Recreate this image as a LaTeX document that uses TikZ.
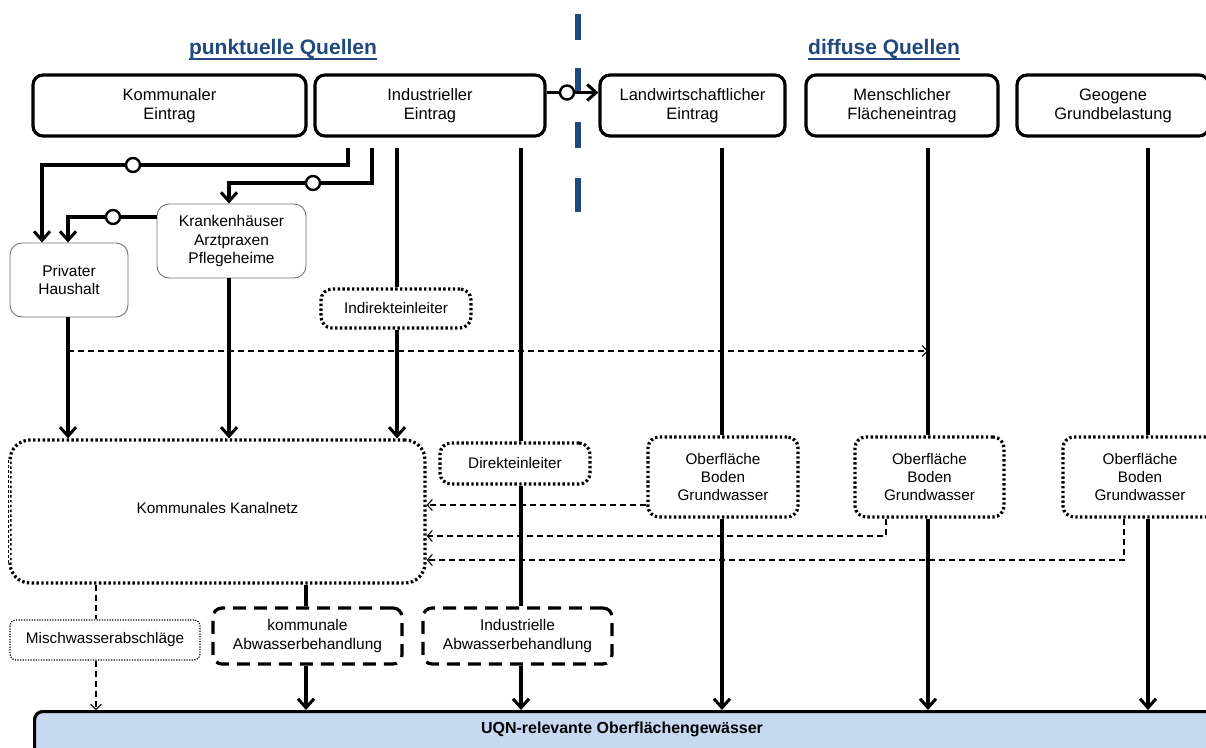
\documentclass[tikz,border=0pt]{standalone}
\usepackage{fontspec}
\setmainfont{Liberation Sans}
\usetikzlibrary{arrows.meta}
\definecolor{qblue}{RGB}{31,73,125}
\definecolor{uqnfill}{RGB}{198,217,240}
\begin{document}
\begin{tikzpicture}[x=1pt,y=-1pt,
  srcbox/.style={draw, line width=3.2pt, rounded corners=10pt, minimum height=61pt, align=center, font=\fontsize{16.5}{19}\selectfont, inner sep=2pt, fill=white},
  softbox/.style={draw=black!55, line width=0.9pt, rounded corners=12pt, fill=white, align=center, font=\fontsize{15.5}{18.3}\selectfont, inner sep=2pt},
  dotbox/.style={draw, line width=3.2pt, dash pattern=on 2.4pt off 2.4pt, rounded corners=11pt, fill=white, align=center, font=\fontsize{15.3}{18}\selectfont, inner sep=2pt},
  dashbox/.style={draw, line width=3.2pt, dash pattern=on 13pt off 8pt, rounded corners=9pt, fill=white, align=center, font=\fontsize{15.5}{18.3}\selectfont, inner sep=2pt},
  thinbox/.style={draw, line width=1.2pt, dash pattern=on 1.2pt off 1.4pt, rounded corners=6pt, fill=white, align=center, font=\fontsize{15.3}{18}\selectfont, inner sep=2pt},
  flow/.style={line width=3.2pt, -{Straight Barb[length=9pt,width=16pt,line width=3pt]}},
  flowline/.style={line width=3.2pt},
  dflow/.style={line width=1.1pt, dash pattern=on 6pt off 4pt, -{Straight Barb[length=5pt,width=11pt,line width=1.1pt]}},
  dline/.style={line width=1.1pt, dash pattern=on 6pt off 4pt},
  knot/.style={circle, draw, line width=2.4pt, fill=white, minimum size=14pt, inner sep=0pt},
]
\useasboundingbox (0,0) rectangle (1206,747);

% titles
\node[font=\bfseries\fontsize{21}{24}\selectfont, text=qblue, inner sep=0pt, anchor=base] (pq) at (283,54) {punktuelle Quellen};
\draw[qblue, line width=1.8pt] ([yshift=-5pt]pq.base west) -- ([yshift=-5pt]pq.base east);
\node[font=\bfseries\fontsize{21}{24}\selectfont, text=qblue, inner sep=0pt, anchor=base] (dq) at (884,54) {diffuse Quellen};
\draw[qblue, line width=1.8pt] ([yshift=-5pt]dq.base west) -- ([yshift=-5pt]dq.base east);

% divider
\draw[qblue, line width=6pt, dash pattern=on 26pt off 28pt] (578,14) -- (578,176);
\draw[qblue, line width=6pt] (578,178) -- (578,212);

% source boxes
\node[srcbox, minimum width=273pt] (kom) at (169.5,105.5) {Kommunaler\\Eintrag};
\node[srcbox, minimum width=230pt] (ind) at (430,105.5) {Industrieller\\Eintrag};
\node[srcbox, minimum width=185pt] (land) at (692.5,105.5) {Landwirtschaftlicher\\Eintrag};
\node[srcbox, minimum width=192pt] (mensch) at (902,105.5) {Menschlicher\\Flächeneintrag};
\node[srcbox, minimum width=192pt] (geo) at (1113,105.5) {Geogene\\Grundbelastung};

% secondary boxes
\node[softbox, minimum width=149pt, minimum height=74pt] (kh) at (231.5,241) {Krankenhäuser\\Arztpraxen\\Pflegeheime};
\node[softbox, minimum width=118pt, minimum height=74pt] (priv) at (69,280) {Privater\\Haushalt};
\node[dotbox, minimum width=150pt, minimum height=39pt] (indir) at (396,308.5) {Indirekteinleiter};
\node[dotbox, minimum width=415pt, minimum height=143pt, rounded corners=20pt] (kanal) at (217.5,511.5) {\raisebox{7pt}{Kommunales Kanalnetz}};
\draw[white, line width=3.8pt] ([yshift=-22pt]kanal.north west) -- ([yshift=22pt]kanal.south west);
\draw[line width=1pt, dash pattern=on 3pt off 2pt] ([yshift=-22pt]kanal.north west) -- ([yshift=22pt]kanal.south west);
\node[dotbox, minimum width=150pt, minimum height=41pt] (direkt) at (515,463.5) {Direkteinleiter};
\node[dotbox, minimum width=150pt, minimum height=80pt] (ob1) at (723,477) {Oberfläche\\Boden\\Grundwasser};
\node[dotbox, minimum width=149pt, minimum height=80pt] (ob2) at (929.5,477) {Oberfläche\\Boden\\Grundwasser};
\node[dotbox, minimum width=154pt, minimum height=80pt] (ob3) at (1140,477) {Oberfläche\\Boden\\Grundwasser};
\node[thinbox, minimum width=190pt, minimum height=40pt] (misch) at (105,640) {Mischwasserabschläge};
\node[dashbox, minimum width=189pt, minimum height=56pt] (kab) at (307.5,636) {kommunale\\Abwasserbehandlung};
\node[dashbox, minimum width=189pt, minimum height=56pt] (iab) at (517.5,636) {Industrielle\\Abwasserbehandlung};
\node[draw, line width=3.2pt, rounded corners=8pt, fill=uqnfill, minimum width=1182pt, minimum height=46pt, anchor=north west, inner sep=0pt] (uqn) at (33,710) {};
\node[font=\bfseries\fontsize{16}{18}\selectfont] (uqnt) at (622,729) {UQN-relevante Oberflächengewässer};

% start points below source boxes
\coordinate (i1) at (348,148);
\coordinate (i2) at (372,148);
\coordinate (i3) at (397,148);
\coordinate (i4) at (521,148);
\coordinate (l1) at (722,148);
\coordinate (m1) at (928,148);
\coordinate (g1) at (1148,148);

% industrieller -> landwirtschaftlicher
\draw[flow] ([yshift=13pt]ind.east) -- ([yshift=13pt]land.west);
\node[knot] (k0) at (567,92.5) {};

% industrial branches
\draw[flow] (i1) -- (348,165) -- (42,165) -- (42,0 |- priv.north);
\node[knot] (k1) at (133,165) {};
\draw[flow] (i2) -- (372,183) -- (229,183) -- (229,0 |- kh.north);
\node[knot] (k2) at (313,183) {};
\draw[flow] (kh.west |- 0,217) -- (68,217) -- (68,0 |- priv.north);
\node[knot] (k3) at (113,217) {};

% into Kanalnetz
\draw[flow] (68,0 |- priv.south) -- (68,0 |- kanal.north);
\draw[flow] (229,0 |- kh.south) -- (229,0 |- kanal.north);
\draw[flowline] (i3) -- (397,0 |- indir.north);
\draw[flow] (397,0 |- indir.south) -- (397,0 |- kanal.north);

% dashed Privater -> Menschlicher line
\coordinate (pd) at (68,351);
\coordinate (md) at (928,351);
\draw[dflow] (pd) -- (md);

% Direkteinleiter line
\draw[flowline] (i4) -- (521,0 |- direkt.north);
\draw[flowline] (521,0 |- direkt.south) -- (521,0 |- iab.north);

% diffuse lines
\draw[flowline] (l1) -- (722,0 |- ob1.north);
\draw[flow] (722,0 |- ob1.south) -- (722,0 |- uqn.north);
\draw[flowline] (m1) -- (928,0 |- ob2.north);
\draw[flow] (928,0 |- ob2.south) -- (928,0 |- uqn.north);
\draw[flowline] (g1) -- (1148,0 |- ob3.north);
\draw[flow] (1148,0 |- ob3.south) -- (1148,0 |- uqn.north);

% dashed returns to Kanalnetz
\draw[dflow] (ob1.west |- 0,505) -- (kanal.east |- 0,505);
\draw[dflow] (886,0 |- ob2.south) -- (886,536) -- (kanal.east |- 0,536);
\draw[dflow] (1124,0 |- ob3.south) -- (1124,560) -- (kanal.east |- 0,560);

% Kanalnetz outputs
\draw[dline] (96,0 |- kanal.south) -- (96,0 |- misch.north);
\draw[dflow] (96,0 |- misch.south) -- (96,0 |- uqn.north);
\draw[flowline] (306,0 |- kanal.south) -- (306,0 |- kab.north);
\draw[flow] (306,0 |- kab.south) -- (306,0 |- uqn.north);
\draw[flow] (521,0 |- iab.south) -- (521,0 |- uqn.north);
\end{tikzpicture}
\end{document}
